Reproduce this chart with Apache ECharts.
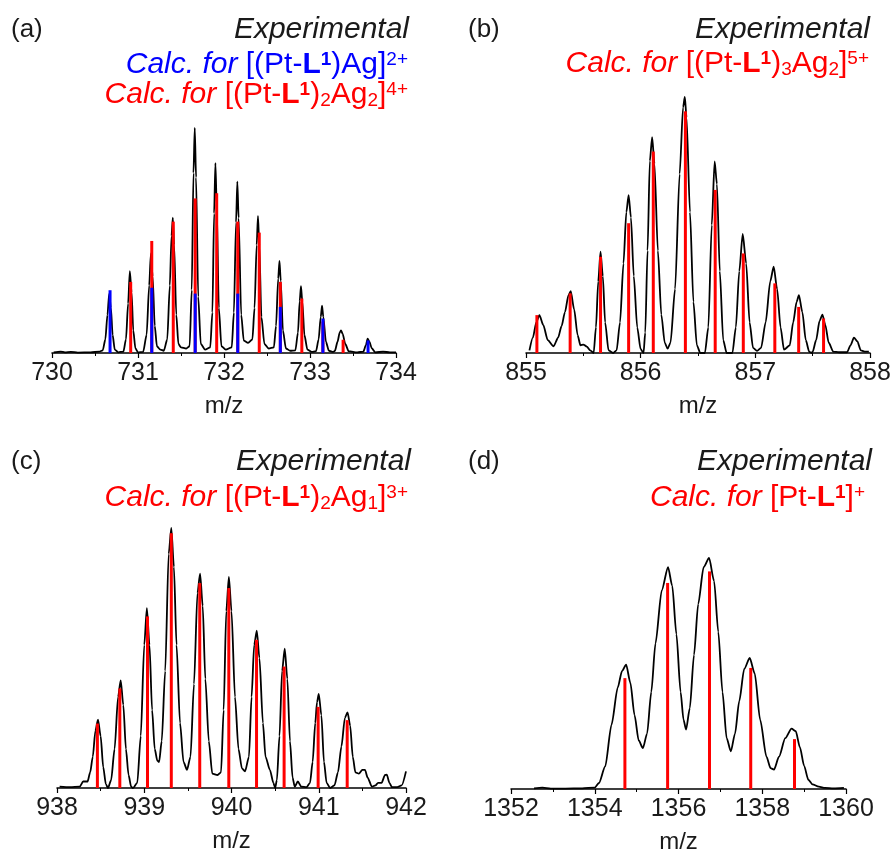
<!DOCTYPE html>
<html>
<head>
<meta charset="utf-8">
<script src="https://cdn.jsdelivr.net/npm/echarts@6/dist/echarts.min.js"></script>
<style>
  html, body { margin: 0; padding: 0; background: #fff; }
  #chart { width: 894px; height: 856px; }
</style>
</head>
<body>
<div id="chart"></div>
<script>
// ---- Panel (a): m/z 730–734 ----
const expA = [
  [730.02,0.3],[730.1,0.6],[730.15,0.3],[730.22,0.5],[730.3,0.2],[730.45,0.3],[730.55,0.6],
  [730.59,1.2],[730.62,6],[730.645,17],[730.665,26.4],[730.685,20],[730.705,8],[730.73,1.5],[730.77,0.3],
  [730.83,0.6],[730.86,6],[730.885,22],[730.905,36.4],[730.925,27],[730.945,10],[730.97,2],[731.0,0.3],
  [731.06,0.5],[731.1,8],[731.13,30],[731.15,44.3],[731.17,34],[731.195,12],[731.22,3],[731.26,1.5],[731.3,1],
  [731.34,6],[731.37,30],[731.39,52],[731.405,60.2],[731.42,48],[731.445,17],[731.47,4],[731.5,2.5],[731.56,2],
  [731.6,3],[731.625,28],[731.645,80],[731.66,100],[731.675,78],[731.7,25],[731.73,4],[731.78,1.5],
  [731.84,2.5],[731.865,18],[731.885,62],[731.9,84.4],[731.915,66],[731.94,20],[731.97,3],[732.02,1.5],
  [732.09,2.5],[732.115,18],[732.14,58],[732.155,76.2],[732.17,60],[732.2,17],[732.23,5.5],[732.28,4.5],
  [732.33,6],[732.355,20],[732.38,48],[732.395,60.9],[732.41,48],[732.435,16],[732.47,4],[732.52,2],
  [732.58,2.5],[732.605,12],[732.63,33],[732.645,40.9],[732.66,32],[732.685,10],[732.72,2],[732.77,1],
  [732.83,1.2],[732.86,9],[732.88,23],[732.895,29.7],[732.91,23],[732.935,8],[732.97,1.5],[733.02,0.5],
  [733.07,0.8],[733.1,6],[733.125,16],[733.14,21],[733.155,16],[733.185,5],[733.22,1],[733.27,0.5],
  [733.29,1],[733.32,5],[733.345,9],[733.36,10.1],[733.38,8.5],[733.41,4],[733.45,0.8],[733.55,0.3],
  [733.62,0.6],[733.65,3.5],[733.67,6.4],[733.69,5],[733.72,2],[733.76,0.3],[733.85,0.6],[733.93,0.3],[734.0,0.3]
];
const redA = [
  [730.915,31.6],[731.16,49.8],[731.41,58.4],[731.665,68.7],[731.915,71.0],[732.16,58.4],
  [732.41,53.5],[732.655,31.6],[732.905,24.2],[733.15,14.0],[733.385,5.9]
];
const blueA = [
  [730.675,27.9],[731.16,29.0],[731.665,26.4],[732.16,26.4],[732.655,20.5],[733.15,15.3],[733.675,5.6]
];

// ---- Panel (b): m/z 855–858 ----
const expB = [
  [855.03,1],[855.06,6],[855.09,12],[855.117,14.8],[855.15,11],[855.19,5],[855.24,2.6],[855.28,6],[855.31,10.5],
  [855.34,16],[855.37,22.5],[855.39,24.2],[855.42,17],[855.45,7],[855.475,3],[855.5,3.3],[855.53,2.5],[855.56,1],[855.59,0],
  [855.61,10],[855.63,28],[855.65,39.6],[855.67,30],[855.69,12],[855.72,1],[855.76,0],
  [855.79,1],[855.82,12],[855.85,35],[855.875,55],[855.895,61.7],[855.915,53],[855.94,30],[855.97,10],[856.0,1.5],[856.025,0],
  [856.04,8],[856.06,40],[856.08,75],[856.1,84.3],[856.12,74],[856.15,40],[856.18,15],[856.21,4],[856.235,1.7],
  [856.26,4],[856.3,25],[856.34,70],[856.37,96],[856.385,100],[856.4,92],[856.43,55],[856.46,20],[856.49,3],[856.52,0],
  [856.56,0],[856.59,10],[856.62,50],[856.645,74.8],[856.665,66],[856.69,32],[856.72,5],[856.75,0],
  [856.8,0],[856.83,10],[856.86,32],[856.89,46.5],[856.92,35],[856.95,12],[856.98,2],[857.015,0.8],
  [857.05,2],[857.09,12],[857.13,28],[857.16,33.7],[857.19,25],[857.22,10],[857.25,1.3],
  [857.3,3],[857.33,12],[857.36,20],[857.38,22.6],[857.41,16],[857.44,5],[857.47,0.5],[857.49,0],
  [857.5,0.5],[857.53,5],[857.56,12.5],[857.585,15],[857.61,11],[857.64,4],[857.68,0.5],[857.73,0.3],
  [857.8,0.3],[857.83,3],[857.86,6],[857.89,4.5],[857.92,1],[857.96,0.5],[857.99,0.5]
];
const redB = [
  [855.095,14.8],[855.385,23.3],[855.65,37.6],[855.895,50.7],[856.11,78.7],[856.39,94.4],
  [856.65,63.7],[856.895,38.9],[857.17,27.2],[857.378,18.0],[857.595,13.5]
];

// ---- Panel (c): m/z 938–942 ----
const expC = [
  [938.03,0.5],[938.15,0.3],[938.26,0.5],[938.3,2.5],[938.35,2.5],
  [938.38,6],[938.41,12],[938.44,22],[938.47,26.3],[938.5,20],[938.53,8],[938.56,1.5],[938.585,0],
  [938.62,3],[938.66,15],[938.7,35],[938.73,41.4],[938.76,32],[938.79,15],[938.82,5],[938.85,0.5],[938.87,0],
  [938.92,2],[938.96,20],[939.0,55],[939.03,69.2],[939.06,55],[939.09,30],[939.12,15],[939.15,10.5],[939.17,10],
  [939.2,18],[939.24,45],[939.28,90],[939.31,100],[939.34,85],[939.37,55],[939.41,25],[939.45,10],[939.49,7],
  [939.53,12],[939.57,40],[939.61,75],[939.64,82.4],[939.67,70],[939.7,42],[939.74,18],[939.78,5.5],[939.84,5],[939.88,6],
  [939.91,30],[939.94,68],[939.97,81.2],[940.0,68],[940.04,35],[940.08,15],[940.12,7.5],[940.155,6.4],
  [940.2,12],[940.23,35],[940.26,55],[940.29,60.5],[940.32,50],[940.36,25],[940.39,12],[940.44,7],[940.48,2],[940.5,0],
  [940.52,3],[940.55,20],[940.58,45],[940.61,53.6],[940.64,42],[940.67,18],[940.7,4],[940.725,0.5],
  [940.76,2.5],[940.8,0.5],[940.86,0.3],[940.9,2],
  [940.93,10],[940.96,25],[940.98,33],[941.0,36.2],[941.03,28],[941.06,10],[941.09,2],[941.13,0],
  [941.18,1],[941.22,6],[941.26,16],[941.3,27],[941.33,29.1],[941.36,24],[941.39,12],[941.42,6],[941.46,5.5],
  [941.5,7],[941.53,7],[941.56,4],[941.61,0.5],[941.65,1],[941.68,2],[941.72,2],[941.76,5],[941.78,5.1],
  [941.81,2],[941.84,0.3],[941.9,0.3],[941.95,1],[942.0,6.4]
];
const redC = [
  [938.463,24.8],[938.72,38.3],[939.037,66.0],[939.31,98.0],[939.636,78.8],[939.969,76.9],
  [940.287,57.0],[940.603,46.7],[940.993,31.2],[941.326,26.1]
];

// ---- Panel (d): m/z 1352–1360 ----
const expD = [
  [1352.55,0.3],[1352.75,0.6],[1352.95,0.2],[1353.3,0.2],[1353.7,0.3],[1354.0,0.6],
  [1354.1,2.6],[1354.25,9.8],[1354.4,27.8],[1354.55,44],[1354.65,51],[1354.75,53.8],[1354.85,46],
  [1354.95,32],[1355.05,21],[1355.15,17.7],[1355.25,24],[1355.35,42],[1355.45,63],[1355.6,86],[1355.75,96],
  [1355.85,88],[1355.95,67],[1356.05,42],[1356.12,30],[1356.18,25.7],[1356.27,35],[1356.37,58],[1356.47,80],
  [1356.6,96],[1356.73,100],[1356.85,90],[1356.95,68],[1357.05,42],[1357.15,22],[1357.25,16.3],[1357.35,24],
  [1357.45,38],[1357.57,52],[1357.7,56.7],[1357.82,50],[1357.95,30],[1358.1,14],[1358.2,9],[1358.28,8.4],
  [1358.4,14],[1358.55,22],[1358.7,26.1],[1358.8,25],[1358.9,18],[1359.0,10],[1359.1,4],[1359.2,2],
  [1359.35,1],[1359.5,0.5],[1359.7,0.3],[1359.95,0.5]
];
const redD = [
  [1354.72,48.0],[1355.74,89.2],[1356.74,94.2],[1357.725,52.4],[1358.77,21.6]
];

// Axis ranges: [min, max, interval]
const axisA = [730, 734, 1];
const axisB = [855, 858, 1];
const axisC = [938, 942, 1];
const axisD = [1352, 1360, 2];

const FONT = '"Liberation Sans", Arial, sans-serif';
const INK = '#1a1a1a';
const RED = '#ff0000';
const BLUE = '#0000ff';

// grid boxes in pixels
const grids = [
  { left: 52,  right: 498, top: 128, bottom: 503 },
  { left: 526, right: 24,  top: 97,  bottom: 503 },
  { left: 57,  right: 488, top: 528, bottom: 68 },
  { left: 511, right: 48,  top: 558, bottom: 67 }
];
const ranges = [axisA, axisB, axisC, axisD];

function xAxisFor(i) {
  const r = ranges[i];
  return {
    type: 'value', gridIndex: i, min: r[0], max: r[1], interval: r[2],
    name: 'm/z', nameLocation: 'middle', nameGap: 41,
    nameTextStyle: { fontFamily: FONT, fontSize: 24, color: INK },
    axisLine: { show: true, onZero: false, lineStyle: { color: '#000', width: 1.5 } },
    axisTick: { show: true, inside: false, length: 5, lineStyle: { color: '#000', width: 1.2 } },
    minorTick: { show: true, splitNumber: 2, length: 3, lineStyle: { color: '#000', width: 1 } },
    axisLabel: {
      fontFamily: FONT, fontSize: 25, color: INK, margin: 8, showMinLabel: true, showMaxLabel: true,
      formatter: function (v) { return String(v); }
    },
    splitLine: { show: false }
  };
}
function yAxisFor(i) {
  return { type: 'value', gridIndex: i, min: 0, max: 100, show: false };
}

function stickSeries(data, i, color) {
  return {
    type: 'custom', xAxisIndex: i, yAxisIndex: i, data: data, clip: false, z: 3,
    encode: { x: 0, y: 1 },
    renderItem: function (params, api) {
      const top = api.coord([api.value(0), api.value(1)]);
      const base = api.coord([api.value(0), 0]);
      const w = 3;
      return {
        type: 'rect',
        shape: { x: top[0] - w / 2, y: top[1], width: w, height: base[1] - top[1] },
        style: { fill: color }
      };
    }
  };
}
function spectrumSeries(data, i) {
  return {
    type: 'line', xAxisIndex: i, yAxisIndex: i, data: data, showSymbol: false, clip: false, z: 2,
    smooth: 0.25, smoothMonotone: 'x',
    lineStyle: { color: '#000', width: 1.8 }, silent: true
  };
}

// rich-text styles for the formula captions
function rich(color) {
  return {
    it:  { fontFamily: FONT, fontSize: 30, fontStyle: 'italic', fontWeight: 'normal', color: color, lineHeight: 30 },
    n:   { fontFamily: FONT, fontSize: 30, fontWeight: 'normal', color: color, lineHeight: 30 },
    b:   { fontFamily: FONT, fontSize: 30, fontWeight: 'bold', color: color, lineHeight: 30 },
    bs:  { fontFamily: FONT, fontSize: 19, fontWeight: 'bold', color: color, lineHeight: 21, verticalAlign: 'top' },
    sup: { fontFamily: FONT, fontSize: 19, fontWeight: 'normal', color: color, lineHeight: 19, verticalAlign: 'top' },
    sub: { fontFamily: FONT, fontSize: 19, fontWeight: 'normal', color: color, lineHeight: 15, verticalAlign: 'bottom' }
  };
}
function caption(text, color, right, top) {
  return {
    text: text, right: right, top: top, padding: 0, itemGap: 0,
    textStyle: { rich: rich(color), fontFamily: FONT, fontSize: 30, fontWeight: 'normal', color: color, lineHeight: 30 }
  };
}
function panelTag(text, left, top) {
  return {
    text: text, left: left, top: top, padding: 0,
    textStyle: { fontFamily: FONT, fontSize: 26, fontWeight: 'normal', color: INK, lineHeight: 30 }
  };
}

const titles = [
  panelTag('(a)', 11, 15),
  caption('{it|Experimental}', INK, 485, 15),
  caption('{it|Calc. for }{n|[(Pt-}{b|L}{bs|1}{n|)Ag]}{sup|2+}', BLUE, 486, 50),
  caption('{it|Calc. for }{n|[(Pt-}{b|L}{bs|1}{n|)}{sub|2}{n|Ag}{sub|2}{n|]}{sup|4+}', RED, 486, 80),

  panelTag('(b)', 468, 15),
  caption('{it|Experimental}', INK, 24, 15),
  caption('{it|Calc. for }{n|[(Pt-}{b|L}{bs|1}{n|)}{sub|3}{n|Ag}{sub|2}{n|]}{sup|5+}', RED, 25, 49),

  panelTag('(c)', 11, 447),
  caption('{it|Experimental}', INK, 483, 447),
  caption('{it|Calc. for }{n|[(Pt-}{b|L}{bs|1}{n|)}{sub|2}{n|Ag}{sub|1}{n|]}{sup|3+}', RED, 486, 483),

  panelTag('(d)', 468, 447),
  caption('{it|Experimental}', INK, 22, 447),
  caption('{it|Calc. for }{n|[Pt-}{b|L}{bs|1}{n|]}{sup|+}', RED, 29, 483)
];

const chart = echarts.init(document.getElementById('chart'), null, { renderer: 'canvas' });
chart.setOption({
  backgroundColor: '#ffffff',
  animation: false,
  title: titles,
  grid: grids,
  xAxis: [0, 1, 2, 3].map(xAxisFor),
  yAxis: [0, 1, 2, 3].map(yAxisFor),
  series: [
    spectrumSeries(expA, 0), stickSeries(redA, 0, RED), stickSeries(blueA, 0, BLUE),
    spectrumSeries(expB, 1), stickSeries(redB, 1, RED),
    spectrumSeries(expC, 2), stickSeries(redC, 2, RED),
    spectrumSeries(expD, 3), stickSeries(redD, 3, RED)
  ]
});
</script>
</body>
</html>
